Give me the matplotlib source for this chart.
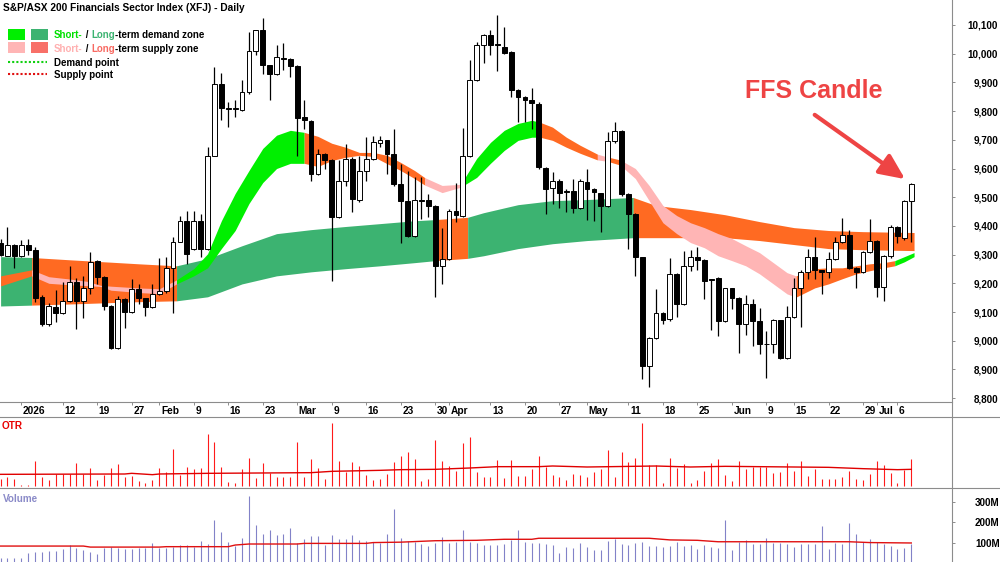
import matplotlib
matplotlib.use("Agg")
import matplotlib.pyplot as plt
import matplotlib.transforms as mtransforms
import numpy as np
import pandas as pd
from matplotlib.lines import Line2D
from matplotlib.patches import Rectangle

plt.rcParams['font.family'] = ['Liberation Sans', 'DejaVu Sans']

# trading calendar shown on the chart (ASX)
start_day, end_day = '2025-12-29', '2026-07-08'
holidays = ['2026-01-01', '2026-01-26', '2026-04-03', '2026-04-06', '2026-06-08']

# daily candles, XFJ
opens = [9340, 9296, 9335, 9296, 9334, 9317, 9153, 9057, 9119, 9098,
         9139, 9205, 9139, 9185, 9278, 9223, 9121, 8976, 9147, 9101,
         9179, 9148, 9119, 9162, 9174, 9253, 9345, 9418, 9319, 9418,
         9319, 9645, 9893, 9812, 9806, 9803, 9867, 10010, 10082, 9960,
         9928, 9985, 9980, 9957, 9779, 9766, 9581, 9651, 9630, 9430,
         9555, 9634, 9490, 9593, 9634, 9688, 9698, 9651, 9546, 9488,
         9366, 9490, 9490, 9470, 9261, 9284, 9451, 9436, 9642, 9910,
         10030, 10065, 10033, 10024, 10006, 9875, 9849, 9840, 9826, 9602,
         9533, 9558, 9521, 9521, 9463, 9553, 9529, 9514, 9468, 9696,
         9731, 9512, 9442, 9290, 8912, 9009, 9096, 9075, 9232, 9127,
         9261, 9293, 9281, 9214, 9220, 9069, 9183, 9150, 9060, 9129,
         9069, 8990, 8990, 9071, 8941, 9084, 9185, 9241, 9290, 9246,
         9241, 9284, 9343, 9369, 9255, 9238, 9308, 9346, 9188, 9296,
         9397, 9358, 9486]
highs = [9355, 9395, 9337, 9351, 9354, 9327, 9160, 9133, 9176, 9206,
         9261, 9220, 9226, 9308, 9280, 9225, 9123, 9156, 9150, 9214,
         9196, 9150, 9197, 9288, 9290, 9362, 9436, 9451, 9451, 9440,
         9674, 9954, 9933, 9830, 9837, 9907, 10076, 10084, 10123, 9962,
         10030, 10036, 9985, 9960, 9837, 9770, 9669, 9655, 9632, 9630,
         9686, 9640, 9645, 9709, 9712, 9715, 9700, 9738, 9616, 9593,
         9572, 9572, 9511, 9472, 9391, 9460, 9549, 9742, 9977, 10040,
         10070, 10082, 10135, 10094, 10010, 9878, 9852, 9882, 9830, 9604,
         9588, 9562, 9530, 9562, 9564, 9599, 9533, 9516, 9727, 9762,
         9733, 9514, 9444, 9292, 9012, 9180, 9100, 9288, 9235, 9311,
         9316, 9325, 9283, 9216, 9222, 9185, 9185, 9152, 9160, 9145,
         9115, 9034, 9075, 9073, 9121, 9218, 9245, 9319, 9362, 9248,
         9308, 9362, 9427, 9386, 9258, 9312, 9424, 9350, 9300, 9404,
         9400, 9491, 9548]
lows = [9294, 9294, 9255, 9292, 9300, 9135, 9050, 9051, 9065, 9093,
        9135, 9040, 9080, 9162, 9197, 9106, 8970, 8972, 9045, 9098,
        9127, 9086, 9115, 9160, 9168, 9096, 9343, 9267, 9315, 9290,
        9315, 9643, 9768, 9744, 9779, 9800, 9860, 9995, 9931, 9837,
        9926, 9942, 9919, 9645, 9738, 9558, 9578, 9600, 9208, 9428,
        9540, 9447, 9482, 9558, 9630, 9675, 9581, 9540, 9339, 9362,
        9362, 9424, 9430, 9153, 9199, 9280, 9412, 9430, 9640, 9905,
        9966, 9995, 9940, 10000, 9849, 9762, 9762, 9738, 9600, 9442,
        9477, 9463, 9448, 9445, 9460, 9419, 9416, 9378, 9465, 9690,
        9505, 9320, 9226, 8865, 8838, 9005, 9060, 9070, 9081, 9125,
        9244, 9246, 9145, 9037, 9017, 9065, 9110, 8958, 9020, 8982,
        8952, 8871, 8958, 8938, 8938, 9080, 9048, 9214, 9214, 9164,
        9220, 9280, 9340, 9250, 9183, 9235, 9305, 9153, 9139, 9288,
        9339, 9351, 9343]
closes = [9297, 9335, 9296, 9335, 9316, 9150, 9057, 9121, 9098, 9139,
          9205, 9139, 9185, 9276, 9223, 9121, 8976, 9147, 9101, 9179,
          9148, 9119, 9162, 9174, 9253, 9345, 9418, 9302, 9418, 9319,
          9645, 9893, 9812, 9806, 9812, 9867, 10010, 10082, 9960, 9931,
          9987, 9983, 9957, 9777, 9768, 9581, 9651, 9630, 9430, 9555,
          9634, 9494, 9593, 9634, 9692, 9698, 9651, 9546, 9488, 9366,
          9490, 9488, 9470, 9261, 9284, 9451, 9439, 9642, 9910, 10030,
          10065, 10030, 10030, 10003, 9872, 9849, 9840, 9828, 9604, 9529,
          9558, 9514, 9518, 9463, 9556, 9529, 9517, 9468, 9696, 9731,
          9512, 9442, 9290, 8912, 9009, 9098, 9073, 9232, 9127, 9261,
          9293, 9281, 9209, 9210, 9069, 9183, 9150, 9060, 9129, 9069,
          8987, 8987, 9071, 8941, 9084, 9185, 9241, 9290, 9246, 9241,
          9284, 9343, 9369, 9255, 9238, 9308, 9346, 9188, 9296, 9397,
          9366, 9486, 9546]

# OTR (relative units) and volume (millions)
otr = [20, 26, 20, 3, 3, 76, 26, 18, 36, 36,
       36, 70, 36, 53, 18, 33, 53, 66, 28, 30,
       16, 8, 18, 53, 43, 111, 33, 56, 51, 53,
       155, 131, 56, 13, 8, 50, 83, 23, 70, 38,
       28, 28, 28, 133, 26, 81, 53, 20, 188, 75,
       43, 73, 60, 33, 18, 20, 36, 73, 91, 103,
       80, 16, 20, 138, 76, 60, 46, 128, 146, 43,
       28, 26, 78, 23, 78, 31, 30, 50, 90, 58,
       33, 26, 18, 35, 33, 26, 43, 50, 108, 26,
       102, 73, 85, 190, 62, 62, 8, 83, 53, 66,
       8, 18, 46, 70, 81, 33, 16, 75, 50, 56,
       56, 56, 38, 43, 70, 46, 75, 30, 50, 20,
       20, 20, 28, 45, 20, 18, 35, 75, 63, 40,
       8, 48, 80]
otr_avg_x = [0, 18, 19, 22, 23, 30, 45, 48, 55, 58, 63, 68, 72, 78, 80, 85, 95, 100, 105, 115, 120, 125, 130, 132]
otr_avg = [35, 36, 38, 34, 36, 38, 40, 44, 47, 49, 50, 54, 58, 58, 60, 57, 60, 57, 59, 57, 56, 52, 49, 50]

volume = [25, 25, 25, 28, 50, 58, 58, 63, 63, 71,
          90, 74, 66, 58, 46, 74, 79, 74, 69, 69,
          74, 74, 99, 74, 74, 82, 90, 90, 82, 111,
          95, 212, 155, 106, 85, 122, 329, 188, 145, 161,
          137, 143, 172, 98, 118, 134, 134, 90, 139, 119,
          119, 139, 115, 111, 106, 101, 142, 264, 123, 111,
          106, 93, 85, 101, 130, 101, 106, 163, 106, 98,
          90, 90, 90, 95, 115, 164, 106, 101, 98, 93,
          90, 50, 82, 74, 101, 82, 66, 66, 111, 118,
          95, 90, 101, 106, 85, 85, 82, 85, 106, 85,
          90, 69, 90, 82, 74, 212, 66, 106, 115, 95,
          95, 126, 101, 101, 95, 82, 95, 95, 95, 183,
          69, 98, 95, 196, 144, 106, 118, 106, 95, 85,
          69, 74, 95]
vol_avg_x = [0, 12, 13, 23, 24, 33, 34, 36, 43, 44, 53, 54, 58, 63, 69, 73, 77, 78, 94, 97, 101, 104, 123, 126, 132]
vol_avg = [85, 85, 80, 80, 82, 82, 90, 95, 95, 98, 98, 102, 104, 111, 113, 118, 118, 123, 123, 115, 113, 106, 106, 102, 100]

# long-term zone ribbon (upper / lower edge) and its state
lt_x = [0, 4.5, 10, 15, 20, 25.5, 30, 35, 40, 45, 50, 55, 60, 63, 67.7, 70, 75, 80, 85, 91.7,
        95, 100, 105, 110, 115, 120, 125, 132.4]
lt_hi = [9293, 9290, 9282, 9275, 9268, 9261, 9286, 9331, 9373, 9387, 9398, 9408, 9418, 9422, 9430, 9446,
         9474, 9488, 9492, 9499, 9471, 9457, 9439, 9415, 9394, 9384, 9380, 9377]
lt_lo = [9121, 9124, 9128, 9132, 9136, 9139, 9153, 9198, 9226, 9240, 9251, 9261, 9272, 9279, 9287, 9296,
         9321, 9338, 9349, 9359, 9359, 9359, 9359, 9349, 9335, 9321, 9317, 9314]
lt_zones = [(0, 4.5, 'lt_demand'), (4.5, 25.5, 'lt_supply'), (25.5, 63, 'lt_demand'),
            (63, 67.7, 'lt_supply'), (67.7, 91.7, 'lt_demand'), (91.7, 132.4, 'lt_supply')]

# short-term zone ribbon
st_x = [0, 4.5, 7, 10, 12.5, 14.5, 16, 20, 23, 25.5, 28, 30, 32, 34, 36, 38, 40, 42, 44, 46, 48, 50,
        52, 54, 56, 58, 60, 61.5, 64, 66.7, 69, 71, 73, 75, 77, 78.2, 80, 82, 84, 86.5, 88, 89.8, 92,
        94, 96, 98, 100, 102, 104, 106, 108, 110, 112, 114, 115.3, 118, 120, 122, 124, 126, 128,
        129.6, 131, 132.4]
st_hi = [9226, 9247, 9223, 9215, 9207, 9193, 9190, 9184, 9181, 9212, 9251, 9303, 9418, 9513, 9593,
         9670, 9716, 9733, 9726, 9712, 9688, 9674, 9656, 9656, 9646, 9621, 9593, 9568, 9541, 9545,
         9635, 9691, 9733, 9757, 9768, 9761, 9744, 9709, 9681, 9650, 9640, 9630, 9600, 9541, 9471,
         9436, 9411, 9394, 9373, 9356, 9331, 9307, 9272, 9237, 9226, 9251, 9254, 9254, 9261, 9268,
         9272, 9279, 9293, 9307]
st_lo = [9191, 9226, 9200, 9195, 9192, 9189, 9176, 9168, 9164, 9198, 9226, 9254, 9321, 9384, 9478,
         9551, 9600, 9618, 9618, 9607, 9628, 9639, 9646, 9642, 9617, 9593, 9565, 9542, 9516, 9535,
         9569, 9618, 9663, 9698, 9709, 9709, 9698, 9674, 9653, 9630, 9625, 9612, 9565, 9488, 9411,
         9373, 9342, 9324, 9296, 9279, 9261, 9233, 9198, 9163, 9152, 9184, 9198, 9216, 9233, 9244,
         9254, 9261, 9275, 9293]
st_zones = [(0, 4.5, 'lt_supply'), (4.5, 25.5, 'st_supply'), (25.5, 44, 'st_demand'),
            (44, 61.5, 'lt_supply'), (61.5, 66.7, 'st_supply'), (66.7, 78.2, 'st_demand'),
            (78.2, 86.5, 'lt_supply'), (86.5, 88, 'st_supply'), (88, 89.8, 'lt_supply'),
            (89.8, 115.3, 'st_supply'), (115.3, 129.6, 'lt_supply'), (129.6, 132.4, 'st_demand')]

tick_dates = ['2026-01-02', '2026-01-12', '2026-01-19', '2026-01-27', '2026-02-02', '2026-02-09',
              '2026-02-16', '2026-02-23', '2026-03-02', '2026-03-09', '2026-03-16', '2026-03-23',
              '2026-03-30', '2026-04-01', '2026-04-13', '2026-04-20', '2026-04-27', '2026-05-01',
              '2026-05-11', '2026-05-18', '2026-05-25', '2026-06-01', '2026-06-09', '2026-06-15',
              '2026-06-22', '2026-06-29', '2026-07-01', '2026-07-06']
tick_labels = ['2026', '12', '19', '27', 'Feb', '9', '16', '23', 'Mar', '9', '16', '23', '30', 'Apr',
               '13', '20', '27', 'May', '11', '18', '25', 'Jun', '9', '15', '22', '29', 'Jul', '6']

zone_colors = {'st_demand': '#00ef00', 'lt_demand': '#3cb371',
               'st_supply': '#ffb5b5', 'lt_supply': '#ff6a22'}
GREY = '#8c8c8c'
RED = '#ee4444'

dates = pd.bdate_range(start_day, end_day).drop(pd.to_datetime(holidays))
x = np.arange(len(dates))
o, h, l, c = (np.array(v, dtype=float) for v in (opens, highs, lows, closes))

W, H = 1000, 562
fig = plt.figure(figsize=(10, 5.62), dpi=100)
ax = fig.add_axes([0, 1 - 402 / H, 0.952, 402 / H])
ax_otr = fig.add_axes([0, 74 / H, 0.952, 71 / H])
ax_vol = fig.add_axes([0, 0, 0.952, 74 / H])
for a in (ax, ax_otr, ax_vol):
    a.set_xlim(-0.087, 137.9)
    for s in a.spines.values():
        s.set_visible(False)

# zones
lt_x_arr, st_x_arr = np.array(lt_x), np.array(st_x)
for a0, a1, key in lt_zones:
    m = (lt_x_arr >= a0) & (lt_x_arr <= a1)
    ax.fill_between(lt_x_arr, lt_lo, lt_hi, where=m, color=zone_colors[key], lw=0, zorder=1)
for a0, a1, key in st_zones:
    m = (st_x_arr >= a0) & (st_x_arr <= a1)
    ax.fill_between(st_x_arr, st_lo, st_hi, where=m, color=zone_colors[key], lw=0, zorder=2)

# candles
ax.vlines(x, l, h, colors='black', linewidth=0.9, zorder=3)
body_col = np.where(c < o, 'black', 'white')
ax.bar(x, np.maximum(np.abs(c - o), 3), bottom=np.minimum(o, c), width=0.7,
       color=body_col, edgecolor='black', linewidth=0.7, zorder=4)

ax.set_ylim(8786.5, 10187.1)
ax.set_yticks(range(8800, 10101, 100))
ax.set_yticklabels([f'{v:,}' for v in range(8800, 10101, 100)])
ax.tick_params(axis='y', left=False, labelleft=False, right=True, labelright=True,
               length=2.2, width=0.7, color=GREY, pad=31, labelsize=7.1)
for lbl in ax.get_yticklabels():
    lbl.set_horizontalalignment('right')
    lbl.set_fontweight('bold')

tick_pos = [dates.get_loc(pd.Timestamp(d)) for d in tick_dates]
ax.set_xticks(tick_pos)
ax.set_xticklabels(tick_labels)
ax.tick_params(axis='x', direction='out', length=2.5, width=0.7, color=GREY, pad=0.6, labelsize=7.3)
shift = mtransforms.ScaledTranslation(1.6 / 100, 0, fig.dpi_scale_trans)
for lbl in ax.get_xticklabels():
    lbl.set_horizontalalignment('left')
    lbl.set_fontweight('bold')
    lbl.set_transform(lbl.get_transform() + shift)


def axpt(px, py):
    return px / 952, 1 - py / 402


# title and legend
ax.text(*axpt(3, 10.7), 'S&P/ASX 200 Financials Sector Index (XFJ) - Daily', transform=ax.transAxes,
        fontsize=7.25, fontweight='bold', va='baseline')


def colored_text(px, py, parts):
    t = ax.text(*axpt(px, py), parts[0][0], color=parts[0][1], transform=ax.transAxes,
                fontsize=7, fontweight='bold', va='baseline')
    for s, col in parts[1:]:
        t = ax.annotate(s, xy=(1, 0), xycoords=t, color=col, fontsize=7, fontweight='bold', va='bottom')


for (px0, py0), col in [((8, 30), '#00ef00'), ((31, 30), '#3cb371'),
                        ((8, 43), '#ffb5b5'), ((31, 43), '#f87068')]:
    x0, y0 = axpt(px0, py0 + 10)
    ax.add_patch(Rectangle((x0, y0), 17 / 952, 10.5 / 402, transform=ax.transAxes,
                           color=col, lw=0, clip_on=False, zorder=6))
colored_text(54, 38.3, [('Short-', '#00e000'), (' / ', 'black'), ('Long', '#3cb371'),
                        ('-term demand zone', 'black')])
colored_text(54, 52, [('Short-', '#ffb0b0'), (' / ', 'black'), ('Long', '#f86a62'),
                      ('-term supply zone', 'black')])
for py, col, txt in [(62, '#10d010', 'Demand point'), (74, '#e01010', 'Supply point')]:
    ax.plot([8 / 952, 47 / 952], [axpt(0, py)[1]] * 2, transform=ax.transAxes, color=col,
            lw=1.5, linestyle=(0, (1, 1)), clip_on=False)
    ax.text(*axpt(54, py + 3.8), txt, transform=ax.transAxes, fontsize=7, fontweight='bold',
            va='baseline')

# FFS candle call-out
ax.text(107.9, 9844, 'FFS Candle', color=RED, fontsize=18, fontweight='bold', va='baseline')
ax.annotate('', xy=(131.1, 9563), xytext=(118.0, 9787),
            arrowprops=dict(arrowstyle='-|>,head_length=1.1,head_width=0.5', color=RED, lw=3,
                            mutation_scale=14, shrinkA=0, shrinkB=0))

# OTR panel
ax_otr.vlines(x, 0, otr, colors='#ff1a1a', linewidth=0.8)
ax_otr.plot(otr_avg_x, otr_avg, color='#e00000', lw=1)
ax_otr.set_ylim(-6, 207)
ax_otr.set_xticks([])
ax_otr.set_yticks([])
ax_otr.text(2 / 952, 1 - (429.3 - 417) / 71, 'OTR', transform=ax_otr.transAxes, color='#e80000',
            fontsize=7.2, fontweight='bold', va='baseline')

# volume panel
ax_vol.vlines(x, 0, volume, colors='#8282c8', linewidth=0.8)
ax_vol.plot(vol_avg_x, vol_avg, color='#e01010', lw=1)
ax_vol.set_ylim(7.3, 368)
ax_vol.set_xticks([])
ax_vol.set_yticks([100, 200, 300])
ax_vol.set_yticklabels(['100M', '200M', '300M'])
ax_vol.tick_params(axis='y', left=False, labelleft=False, right=True, labelright=True,
                   length=2.2, width=0.7, color=GREY, pad=32, labelsize=7.1)
for lbl in ax_vol.get_yticklabels():
    lbl.set_horizontalalignment('right')
    lbl.set_fontweight('bold')
ax_vol.text(2.5 / 952, 1 - (501.7 - 488) / 74, 'Volume', transform=ax_vol.transAxes, color='#8a8ac8',
            fontsize=7.1, fontweight='bold', va='baseline')

# panel frame lines
for xs, ys in [([0.952, 0.952], [0, 1]),
               ([0, 0.952], [1 - 402 / H] * 2),
               ([0, 1], [1 - 417 / H] * 2),
               ([0, 1], [1 - 488 / H] * 2)]:
    fig.add_artist(Line2D(xs, ys, transform=fig.transFigure, color=GREY, lw=0.8))

fig.savefig('out.png', dpi=100, facecolor='white')
